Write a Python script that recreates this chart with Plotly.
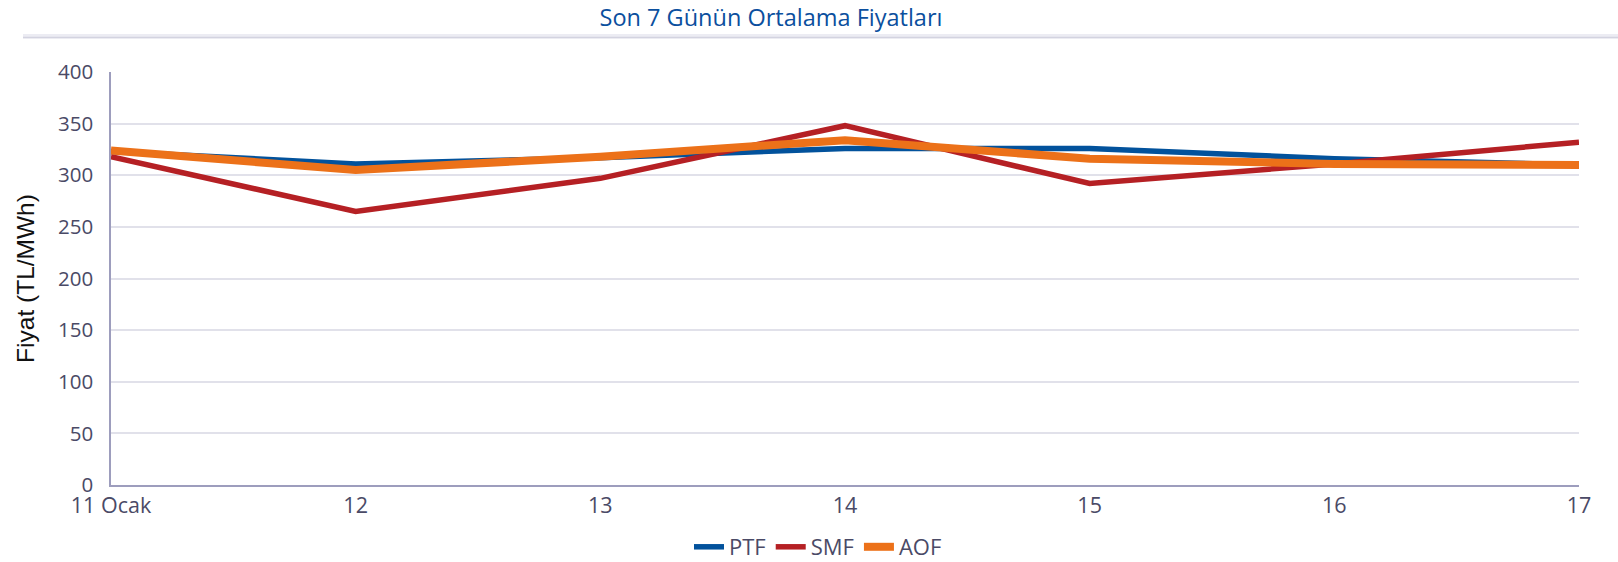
import plotly.graph_objects as go

categories = ["11 Ocak", "12", "13", "14", "15", "16", "17"]
ptf = [323, 311, 317, 326, 326, 316, 310]
smf = [318, 265, 297, 348, 292, 311, 332]
aof = [324, 305, 318, 334, 316, 311, 310]
y_ticks = [0, 50, 100, 150, 200, 250, 300, 350, 400]

title_text = "Son 7 Günün Ortalama Fiyatları"
y_title = "Fiyat (TL/MWh)"

fig = go.Figure()
fig.add_trace(go.Scatter(x=categories, y=ptf, name="PTF", mode="lines",
                         line=dict(color="#02529c", width=5.5)))
fig.add_trace(go.Scatter(x=categories, y=smf, name="SMF", mode="lines",
                         line=dict(color="#b52024", width=5.5)))
fig.add_trace(go.Scatter(x=categories, y=aof, name="AOF", mode="lines",
                         line=dict(color="#ec7119", width=8)))

tick_color = "#4a4a66"
axis_color = "#9d9dbd"
grid_color = "#e1e1ea"

fig.update_layout(
    width=1618, height=562,
    margin=dict(l=111, r=39, t=72, b=77, autoexpand=False),
    paper_bgcolor="white", plot_bgcolor="white",
    font=dict(family="Open Sans", size=20, color=tick_color),
    title=dict(text=title_text, x=771 / 1618, xanchor="center", xref="container",
               y=1 - 17.5 / 562, yanchor="middle", yref="container",
               font=dict(family="Open Sans", size=23.5, color="#0b4f9e")),
    showlegend=True,
    legend=dict(orientation="h", xref="container", yref="container",
                x=818 / 1618, xanchor="center", y=1 - 547 / 562, yanchor="middle",
                font=dict(family="Open Sans", size=22, color=tick_color),
                itemwidth=30, tracegroupgap=0),
    xaxis=dict(type="category", range=[0, 6], showgrid=False, automargin=False,
               showline=True, linecolor=axis_color, linewidth=1.5,
               ticks="", ticklabelstandoff=0, tickfont=dict(size=21.5, color=tick_color)),
    yaxis=dict(range=[0, 400], tickvals=y_ticks, showgrid=True, gridcolor=grid_color,
               gridwidth=1.5, zeroline=False, automargin=False,
               showline=True, linecolor=axis_color, linewidth=1.5,
               ticks="", ticklabelstandoff=12, tickfont=dict(size=20.5, color=tick_color),
               title=dict(text=y_title, standoff=16,
                          font=dict(family="Liberation Sans", size=24.5, color="#111111"))),
)

# separator line under the title
fig.add_shape(type="rect", xref="paper", yref="paper",
              x0=(23 - 111) / 1468, x1=(1618 - 111) / 1468,
              y0=(485 - 38.5) / 413, y1=(485 - 34) / 413,
              fillcolor="#ececf3", line=dict(width=0), layer="above")
fig.add_shape(type="line", xref="paper", yref="paper",
              x0=(23 - 111) / 1468, x1=(1618 - 111) / 1468,
              y0=(485 - 37.5) / 413, y1=(485 - 37.5) / 413,
              line=dict(color="#d3d3e0", width=1.5), layer="above")

fig.write_html("out.html", config={"displayModeBar": False},
               post_script="document.body.style.margin='0';document.body.style.padding='0';document.body.style.overflow='hidden';")
